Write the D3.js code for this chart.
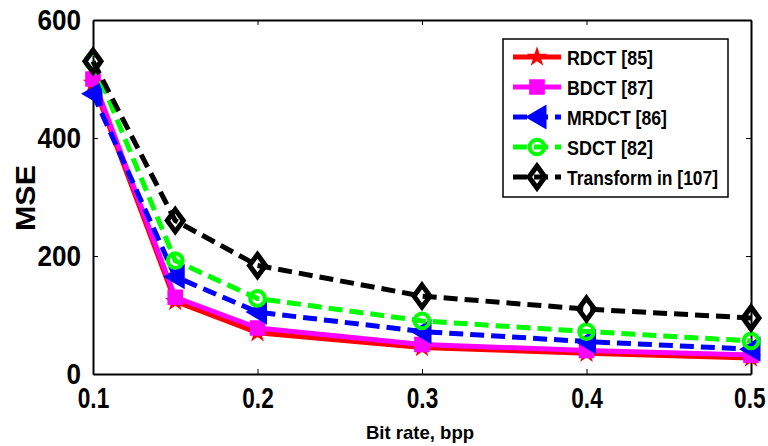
<!DOCTYPE html>
<html><head><meta charset="utf-8">
<script src="https://cdn.jsdelivr.net/npm/d3@7"></script>
<style>body{margin:0;background:#fff}svg{display:block}</style>
</head><body><svg id="c" width="768" height="446"></svg>
<script>
const bitRates = [0.1, 0.15, 0.2, 0.3, 0.4, 0.5];
const rdct = [493, 123, 70, 45, 35, 27];
const bdct = [500, 130, 78, 50, 40, 32];
const mrdct = [475, 165, 105, 72, 55, 42];
const sdct = [530, 192, 128, 90, 72, 56];
const transform107 = [530, 260, 184, 132, 110, 95];
const seriesNames = ["RDCT [85]", "BDCT [87]", "MRDCT [86]", "SDCT [82]", "Transform in [107]"];
const xTicks = [0.1, 0.2, 0.3, 0.4, 0.5];
const yTicks = [0, 200, 400, 600];

const series = [
  {name: seriesNames[0], values: rdct, color: "#ff0000", dash: null, marker: "star"},
  {name: seriesNames[1], values: bdct, color: "#ff00ff", dash: null, marker: "square"},
  {name: seriesNames[2], values: mrdct, color: "#0000ff", dash: "14,7", marker: "triangle"},
  {name: seriesNames[3], values: sdct, color: "#00ff00", dash: "14,7", marker: "circle"},
  {name: seriesNames[4], values: transform107, color: "#000000", dash: "14,7", marker: "diamond"}
];

const FONT = "'Liberation Sans',Arial,sans-serif";
const svg = d3.select("#c");
const L = 93, R = 751, T = 20, B = 374;
const x = d3.scaleLinear().domain([0.1, 0.5]).range([L, R]);
const y = d3.scaleLinear().domain([0, 600]).range([B, T]);

const g = svg.append("g");
const tickLen = 5;
const axB = g.append("g").attr("transform", `translate(0,${B})`)
  .call(d3.axisBottom(x).tickValues(xTicks).tickSize(-tickLen).tickSizeOuter(0).tickPadding(13).tickFormat(d3.format(".1f")));
const axT = g.append("g").attr("transform", `translate(0,${T})`)
  .call(d3.axisTop(x).tickValues(xTicks).tickSize(-tickLen).tickSizeOuter(0).tickFormat(""));
const axL = g.append("g").attr("transform", `translate(${L},0)`)
  .call(d3.axisLeft(y).tickValues(yTicks).tickSize(-tickLen).tickSizeOuter(0).tickPadding(12).tickFormat(d3.format("d")));
const axR = g.append("g").attr("transform", `translate(${R},0)`)
  .call(d3.axisRight(y).tickValues(yTicks).tickSize(-tickLen).tickSizeOuter(0).tickFormat(""));
[axB, axT, axL, axR].forEach(a => {
  a.select(".domain").attr("stroke", "#000").attr("stroke-width", 2);
  a.selectAll(".tick line").attr("stroke", "#000").attr("stroke-width", 1);
});
axL.selectAll(".tick text")
  .attr("font-family", FONT).attr("font-weight", "bold").attr("font-size", 29).attr("fill", "#000")
  .attr("textLength", d => String(d).length * 14.5).attr("lengthAdjust", "spacingAndGlyphs");
const sx = 0.78;
axB.selectAll(".tick text")
  .attr("font-family", FONT).attr("font-weight", "bold").attr("font-size", 29).attr("fill", "#000")
  .attr("dy", "0.71em")
  .attr("text-anchor", (d, i, n) => i === n.length - 1 ? "end" : "middle")
  .attr("x", (d, i, n) => i === n.length - 1 ? 14 / sx : 0)
  .attr("y", 13 / 1)
  .attr("transform", `scale(${sx},1)`);

const line = d3.line().x((d, i) => x(bitRates[i])).y(d => y(d));
const sym = {
  star: d3.symbol().type(d3.symbolStar).size(40),
  square: d3.symbol().type(d3.symbolSquare).size(160),
  circle: d3.symbol().type(d3.symbolCircle).size(170),
};
function drawMarker(sel, s, cx, cy) {
  const m = sel.append("path").attr("transform", `translate(${cx},${cy})`)
    .attr("stroke", s.color).attr("stroke-width", 3).attr("fill", "none");
  if (s.marker === "triangle") {
    m.attr("d", "M-9,0L8,-10L8,10Z").attr("fill", s.color);
  } else if (s.marker === "diamond") {
    m.attr("d", "M0,-11L8,0L0,11L-8,0Z").attr("stroke-width", 5).attr("stroke-linejoin", "miter");
  } else if (s.marker === "square") {
    m.attr("d", sym.square()).attr("fill", s.color);
  } else if (s.marker === "circle") {
    m.attr("d", sym.circle()).attr("stroke-width", 4);
  } else {
    m.attr("d", sym.star()).attr("fill", s.color);
  }
}
series.forEach(s => {
  svg.append("path").datum(s.values).attr("d", line)
    .attr("fill", "none").attr("stroke", s.color).attr("stroke-width", 5)
    .attr("stroke-dasharray", s.dash).attr("stroke-linejoin", "miter");
  const mg = svg.append("g");
  s.values.forEach((v, i) => drawMarker(mg, s, x(bitRates[i]), y(v)));
});

// legend
const lg = svg.append("g");
lg.append("rect").attr("x", 503).attr("y", 39).attr("width", 225).attr("height", 158)
  .attr("fill", "#fff").attr("stroke", "#000").attr("stroke-width", 1.5);
const legendTextWidths = [86, 86, 100, 86, 151];
series.forEach((s, i) => {
  const yy = 57 + i * 30;
  lg.append("line").attr("x1", 513).attr("x2", 561).attr("y1", yy).attr("y2", yy)
    .attr("stroke", s.color).attr("stroke-width", 5).attr("stroke-dasharray", s.dash ? "14,7" : null);
  drawMarker(lg, s, 537, yy);
  lg.append("text").attr("x", 567).attr("y", yy).attr("dy", "0.36em")
    .attr("font-family", FONT).attr("font-weight", "bold").attr("font-size", 21)
    .attr("textLength", legendTextWidths[i]).attr("lengthAdjust", "spacingAndGlyphs").text(s.name);
});

// axis titles
svg.append("text").attr("x", 420).attr("y", 439).attr("text-anchor", "middle")
  .attr("font-family", FONT).attr("font-weight", "bold").attr("font-size", 19)
  .attr("textLength", 108).attr("lengthAdjust", "spacingAndGlyphs").text("Bit rate, bpp");
svg.append("text").attr("transform", "translate(35,198) rotate(-90)").attr("text-anchor", "middle")
  .attr("font-family", FONT).attr("font-weight", "bold").attr("font-size", 28)
  .attr("textLength", 66).attr("lengthAdjust", "spacingAndGlyphs").text("MSE");
</script></body></html>
